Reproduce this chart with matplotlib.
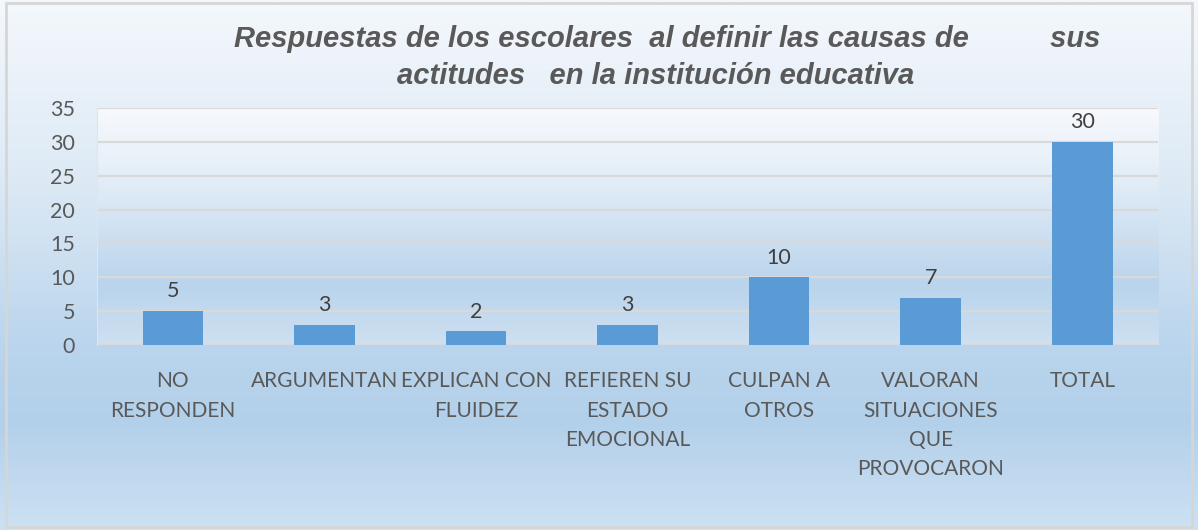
import numpy as np
import matplotlib
matplotlib.use('Agg')
import matplotlib.pyplot as plt
from matplotlib.colors import LinearSegmentedColormap
from matplotlib.patches import Rectangle

categorias = ['NO\nRESPONDEN', 'ARGUMENTAN', 'EXPLICAN CON\nFLUIDEZ',
              'REFIEREN SU\nESTADO\nEMOCIONAL', 'CULPAN A\nOTROS',
              'VALORAN\nSITUACIONES\nQUE\nPROVOCARON', 'TOTAL']
valores = [5, 3, 2, 3, 10, 7, 30]
y_ticks = [0, 5, 10, 15, 20, 25, 30, 35]
titulo_1 = 'Respuestas de los escolares  al definir las causas de          sus'
titulo_2 = 'actitudes   en la institución educativa'

gris = '#595959'

fig = plt.figure(figsize=(11.98, 5.30), dpi=100)

# fondo degradado de toda la figura
bg = fig.add_axes([0, 0, 1, 1], zorder=-2)
cmap_fig = LinearSegmentedColormap.from_list(
    'fig', [(0, '#f4f8fc'), (0.35, '#dce9f5'), (0.65, '#bad5ed'),
            (0.8, '#b3d0ea'), (1, '#cde1f3')])
bg.imshow(np.linspace(0, 1, 256).reshape(-1, 1), cmap=cmap_fig,
          aspect='auto', extent=[0, 1, 0, 1])
bg.set_xlim(0, 1)
bg.set_ylim(0, 1)
bg.axis('off')
bg.add_patch(Rectangle((0.005, 0.006), 0.99, 0.988, fill=False,
                       edgecolor='#d6d6d6', lw=2, transform=bg.transAxes))

ax = fig.add_axes([0.081, 0.349, 0.8857, 0.447])
ax.set_facecolor('none')
x = np.arange(len(categorias))

cmap_ax = LinearSegmentedColormap.from_list(
    'ax', [(0, '#f7f9fd'), (0.3, '#e3edf7'), (0.75, '#b9d4ec'),
           (1, '#cfe0f1')])
ax.imshow(np.linspace(0, 1, 256).reshape(-1, 1), cmap=cmap_ax,
          aspect='auto', extent=[-0.5, len(categorias) - 0.5, 0, 35],
          zorder=0)

ax.set_axisbelow(True)
ax.yaxis.grid(True, color='#d9d9d9', lw=1.6, zorder=1)
barras = ax.bar(x, valores, width=0.4, color='#5b9bd5', zorder=2)

for xi, v in zip(x, valores):
    ax.annotate(str(v), (xi, v), xytext=(0, 7), textcoords='offset points',
                ha='center', va='bottom', fontsize=15.5, color='#404040',
                family='Lato')

ax.set_xlim(-0.5, len(categorias) - 0.5)
ax.set_ylim(0, 35)
ax.set_yticks(y_ticks)
ax.set_xticks(x)
ax.set_xticklabels(categorias, fontsize=15, color=gris, family='Lato',
                   linespacing=1.57)
for lab in ax.get_yticklabels():
    lab.set_fontsize(15.5)
    lab.set_color(gris)
    lab.set_family('Lato')
ax.tick_params(axis='both', length=0)
ax.tick_params(axis='x', pad=19)
ax.tick_params(axis='y', pad=16)
for s in ['top', 'right', 'bottom']:
    ax.spines[s].set_visible(False)
ax.spines['left'].set_color('#dde6ef')

fig.text(0.557, 0.926, titulo_1, ha='center', va='center', fontsize=21,
         fontweight='bold', style='italic', color=gris,
         family='Liberation Sans')
fig.text(0.547, 0.856, titulo_2, ha='center', va='center', fontsize=21,
         fontweight='bold', style='italic', color=gris,
         family='Liberation Sans')

fig.savefig('out.png', dpi=100)
